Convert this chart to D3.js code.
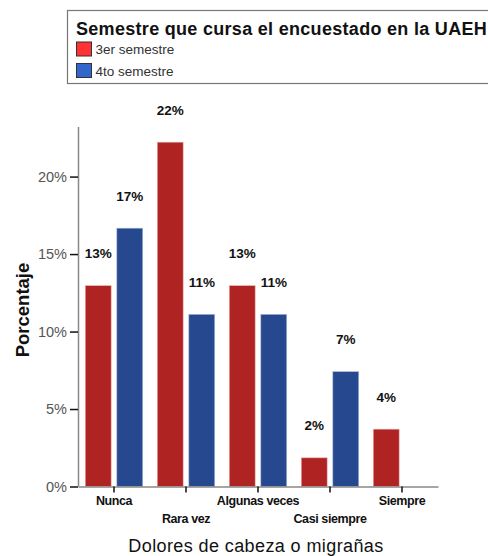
<!DOCTYPE html>
<html>
<head>
<meta charset="utf-8">
<script src="https://cdn.jsdelivr.net/npm/d3@7"></script>
<style>
  html, body { margin: 0; padding: 0; background: #fff; }
  svg { display: block; font-family: "Liberation Sans", Arial, sans-serif; }
</style>
</head>
<body>
<svg id="chart" width="488" height="556"></svg>
<script>
// Frecuencia de dolores de cabeza por semestre (porcentaje del total, n = 54)
const categories = ["Nunca", "Rara vez", "Algunas veces", "Casi siempre", "Siempre"];
const seriesNames = ["3er semestre", "4to semestre"];
const tercerSemestre = [12.96, 22.22, 12.96, 1.85, 3.70];
const cuartoSemestre = [16.67, 11.11, 11.11, 7.41, 0];
const yTicks = [0, 5, 10, 15, 20];

const barColors = ["#b02323", "#25488f"];
const swatchColors = ["#ff3333", "#3366cc"];

const svg = d3.select("#chart");
const plotTop = 127;
const y0 = 486.5;

const x = d3.scaleBand().domain(categories).range([78, 438]).padding(0);
const xInner = d3.scaleBand().domain(seriesNames).range([0, x.bandwidth()])
  .paddingInner(0.18).paddingOuter(0.23);
const y = d3.scaleLinear().domain([0, 23.2]).range([y0, plotTop]);

const rows = categories.map((c, i) => ({ cat: c, vals: [tercerSemestre[i], cuartoSemestre[i]] }));

// Barras con su etiqueta de porcentaje
const g = svg.append("g");
rows.forEach(r => {
  r.vals.forEach((v, s) => {
    if (v <= 0) return;
    const bx = x(r.cat) + xInner(seriesNames[s]);
    g.append("rect")
      .attr("x", bx)
      .attr("y", y(v))
      .attr("width", xInner.bandwidth())
      .attr("height", y(0) - y(v))
      .attr("fill", barColors[s])
      .attr("stroke", s === 0 ? "#e8b0b0" : "#a8b8d8")
      .attr("stroke-width", 0.6);
    g.append("text")
      .attr("x", bx + xInner.bandwidth() / 2)
      .attr("y", y(v) - 27.5)
      .attr("text-anchor", "middle")
      .attr("font-size", 13.5)
      .attr("font-weight", "bold")
      .attr("fill", "#111")
      .text(Math.round(v) + "%");
  });
});

// Eje Y
const yAxis = svg.append("g").attr("transform", `translate(78,0)`)
  .call(d3.axisLeft(y).tickValues(yTicks).tickSize(8).tickPadding(3).tickFormat(d => d + "%"));
yAxis.select(".domain").attr("stroke", "#888").attr("stroke-width", 1.5)
  .attr("d", `M0.5,${plotTop}V${y0}`);
yAxis.selectAll(".tick line").attr("stroke", "#111").attr("stroke-width", 1.5);
yAxis.selectAll(".tick text").attr("font-size", 14.5).attr("fill", "#555")
  .attr("font-family", "Liberation Sans, Arial, sans-serif");

// Eje X
const xAxis = svg.append("g").attr("transform", `translate(0,${y0})`)
  .call(d3.axisBottom(x).tickSize(6).tickPadding(0).tickSizeOuter(0));
xAxis.select(".domain").attr("stroke", "#888").attr("stroke-width", 1.5);
xAxis.selectAll(".tick line").attr("stroke", "#111").attr("stroke-width", 1.5);
xAxis.selectAll(".tick text")
  .attr("font-size", 12.5).attr("font-weight", "bold").attr("fill", "#111")
  .attr("letter-spacing", -0.4)
  .attr("font-family", "Liberation Sans, Arial, sans-serif")
  .attr("y", (d, i) => i % 2 === 0 ? 10 : 28)
  .attr("dy", "0.71em");

// Títulos de ejes
svg.append("text")
  .attr("x", 256).attr("y", 552)
  .attr("text-anchor", "middle")
  .attr("font-size", 18).attr("fill", "#111")
  .attr("letter-spacing", 0.4)
  .text("Dolores de cabeza o migrañas");

svg.append("text")
  .attr("transform", "translate(29,310) rotate(-90)")
  .attr("text-anchor", "middle")
  .attr("font-size", 18.5).attr("font-weight", "bold").attr("fill", "#111")
  .text("Porcentaje");

// Leyenda
const leg = svg.append("g");
leg.append("rect")
  .attr("x", 67.5).attr("y", 10.5).attr("width", 440).attr("height", 73)
  .attr("fill", "#fff").attr("stroke", "#777").attr("stroke-width", 1.2);
leg.append("text")
  .attr("x", 76).attr("y", 35)
  .attr("font-size", 18).attr("font-weight", "bold").attr("fill", "#111")
  .attr("letter-spacing", 0.3)
  .text("Semestre que cursa el encuestado en la UAEH");
seriesNames.forEach((n, i) => {
  const yy = 42 + i * 21.5;
  leg.append("rect")
    .attr("x", 76.5).attr("y", yy).attr("width", 15).attr("height", 14)
    .attr("fill", swatchColors[i]).attr("stroke", "#333").attr("stroke-width", 1);
  leg.append("text")
    .attr("x", 95.5).attr("y", yy + 12)
    .attr("font-size", 13.5).attr("fill", "#333")
    .text(n);
});
</script>
</body>
</html>
